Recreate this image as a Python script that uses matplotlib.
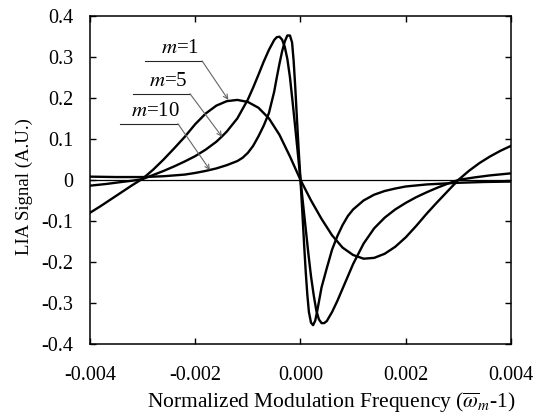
import matplotlib
matplotlib.use("Agg")
import matplotlib.pyplot as plt

plt.rcParams['font.family'] = ['Liberation Serif', 'DejaVu Serif']
plt.rcParams['mathtext.fontset'] = 'stix'
plt.rcParams['axes.unicode_minus'] = False

# curves (x = normalized modulation frequency, y = LIA signal)
m1_x = [-0.004, -0.0038, -0.0036, -0.0034, -0.0032, -0.003, -0.0028, -0.0026, -0.0024,
        -0.0022, -0.002, -0.0018, -0.0016, -0.0014, -0.0012, -0.001, -0.0008, -0.0006,
        -0.0004, -0.0002, 0.0, 0.0002, 0.0004, 0.0006, 0.0008, 0.001, 0.0012, 0.0014,
        0.0016, 0.0018, 0.002, 0.0022, 0.0024, 0.0026, 0.0028, 0.003, 0.0032, 0.0034,
        0.0036, 0.0038, 0.004]
m1_y = [-0.08, -0.064, -0.047, -0.03, -0.013, 0.003, 0.025, 0.05, 0.077,
        0.105, 0.136, 0.162, 0.181, 0.192, 0.195, 0.19, 0.176, 0.15,
        0.11, 0.057, 0.0, -0.05, -0.095, -0.135, -0.165, -0.183, -0.192, -0.19,
        -0.18, -0.163, -0.14, -0.112, -0.082, -0.054, -0.027, 0.0, 0.022, 0.041,
        0.057, 0.071, 0.083]

m5_x = [-0.004, -0.0037, -0.0034, -0.0032, -0.003, -0.0028, -0.0026, -0.0024, -0.0022,
        -0.002, -0.0018, -0.0016, -0.0015, -0.0014, -0.0012, -0.001, -0.0009, -0.0008,
        -0.0007, -0.0006, -0.0005, -0.00045, -0.0004, -0.00035, -0.0003, -0.00025,
        -0.0002, -0.00015, -0.0001, -0.00005, 0.0, 0.00005, 0.0001, 0.00015, 0.0002,
        0.00025, 0.0003, 0.00035, 0.0004, 0.00045, 0.0005, 0.0006, 0.0007, 0.0008,
        0.0009, 0.001, 0.0012, 0.0014, 0.0016, 0.0018, 0.002, 0.0022, 0.0024, 0.0026,
        0.0028, 0.003, 0.0033, 0.0036, 0.004]
m5_y = [-0.014, -0.01, -0.005, -0.002, 0.002, 0.012, 0.022, 0.033, 0.045,
        0.058, 0.074, 0.093, 0.105, 0.118, 0.15, 0.196, 0.225, 0.256,
        0.288, 0.317, 0.341, 0.348, 0.349, 0.342, 0.325, 0.295,
        0.25, 0.19, 0.128, 0.064, 0.0, -0.06, -0.12, -0.18, -0.235,
        -0.28, -0.318, -0.34, -0.349, -0.349, -0.344, -0.322, -0.295, -0.265,
        -0.235, -0.205, -0.155, -0.118, -0.092, -0.072, -0.056, -0.042, -0.03, -0.019,
        -0.009, 0.0, 0.006, 0.011, 0.016]

m10_x = [-0.004, -0.0035, -0.003, -0.0026, -0.0022, -0.002, -0.0018, -0.0016, -0.0014,
         -0.0012, -0.0011, -0.001, -0.0009, -0.0008, -0.0007, -0.0006, -0.0005, -0.00045,
         -0.0004, -0.00035, -0.0003, -0.00025, -0.0002, -0.00016, -0.00013, -0.0001,
         -0.00007, -0.00004, 0.0, 0.00004, 0.00007, 0.0001, 0.00013, 0.00016, 0.0002,
         0.00024, 0.00028, 0.00032, 0.00036, 0.0004, 0.0005, 0.0006, 0.0007, 0.0008,
         0.0009, 0.001, 0.0012, 0.0014, 0.0016, 0.0018, 0.002, 0.0024, 0.003, 0.0035, 0.004]
m10_y = [0.008, 0.007, 0.007, 0.009, 0.013, 0.017, 0.022, 0.028, 0.036,
         0.046, 0.054, 0.066, 0.083, 0.106, 0.132, 0.163, 0.215, 0.25,
         0.283, 0.313, 0.337, 0.352, 0.352, 0.335, 0.29, 0.227,
         0.155, 0.085, 0.0, -0.09, -0.16, -0.225, -0.28, -0.322, -0.348,
         -0.354, -0.343, -0.318, -0.29, -0.262, -0.215, -0.17, -0.137, -0.11,
         -0.088, -0.072, -0.05, -0.036, -0.027, -0.021, -0.016, -0.011, -0.007, -0.005, -0.004]

x_ticks = [-0.004, -0.002, 0.0, 0.002, 0.004]
x_ticklabels = ['-0.004', '-0.002', '0.000', '0.002', '0.004']
y_ticks = [-0.4, -0.3, -0.2, -0.1, 0.0, 0.1, 0.2, 0.3, 0.4]
y_ticklabels = ['-0.4', '-0.3', '-0.2', '-0.1', '0', '0.1', '0.2', '0.3', '0.4']

fig = plt.figure(figsize=(5.39, 4.16), dpi=100)
ax = fig.add_axes([0.167, 0.173, 0.781, 0.789])

ax.axhline(0, color='k', lw=0.9)
for xs, ys in [(m1_x, m1_y), (m5_x, m5_y), (m10_x, m10_y)]:
    ax.plot(xs, ys, color='k', lw=1.7, solid_joinstyle='round')

ax.set_xlim(-0.004, 0.004)
ax.set_ylim(-0.4, 0.4)
ax.set_xticks(x_ticks)
ax.set_xticklabels(x_ticklabels)
ax.set_yticks(y_ticks)
ax.set_yticklabels(y_ticklabels)
ax.tick_params(direction='in', length=4, width=1, top=True, right=True, labelsize=14.5)
ax.tick_params(axis='x', pad=16)
ax.tick_params(axis='y', pad=12)
for s in ax.spines.values():
    s.set_linewidth(1.1)

ax.set_xlabel(r'Normalized Modulation Frequency ($\overline{\omega}_m$-1)', fontsize=15.5)
ax.xaxis.set_label_coords(0.573, -0.142)
ax.set_ylabel('LIA Signal (A.U.)', fontsize=13.5)
ax.yaxis.set_label_coords(-0.135, 0.48)

# labels with leader lines
labels = [r'$m$=1', r'$m$=5', r'$m$=10']
lead = [((-0.00295, -0.00187, 0.29), (-0.00137, 0.195)),
        ((-0.00318, -0.0021, 0.21), (-0.00149, 0.105)),
        ((-0.00343, -0.00233, 0.137), (-0.00172, 0.024))]
for lab, ((x0, x1, yl), tip) in zip(labels, lead):
    ax.plot([x0, x1], [yl, yl], color='0.15', lw=0.8)
    ax.text((x0 + x1) / 2 + 0.00012, yl + 0.006, lab, fontsize=15, ha='center', va='bottom')
    ax.annotate('', xy=tip, xytext=(x1, yl),
                arrowprops=dict(arrowstyle='->', color='0.4', lw=0.8,
                                mutation_scale=8, shrinkA=0, shrinkB=0))

fig.savefig('out.png', dpi=100)
